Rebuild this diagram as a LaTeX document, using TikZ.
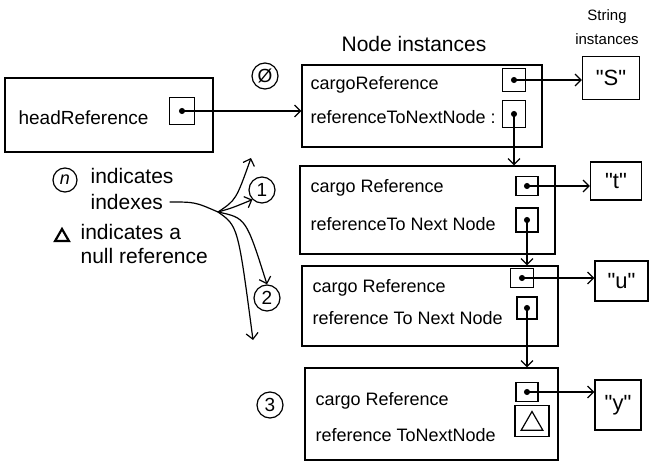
\documentclass[tikz,border=0pt]{standalone}
\usepackage{fontspec}
\setmainfont{Liberation Sans}
\newfontfamily\strfont{Liberation Sans}[Ligatures=TeXOff]
\usetikzlibrary{arrows.meta,shapes.geometric}

\begin{document}
\begin{tikzpicture}[x=1pt, y=-1pt, line width=1.2pt, >={Straight Barb[length=6pt,width=12pt]},
    font=\fontsize{18}{20}\selectfont,
    obj/.style={draw, inner sep=0pt},
    ref/.style={draw, inner sep=0pt, minimum width=23pt, minimum height=22pt},
    str/.style={draw, inner sep=0pt, font=\strfont\fontsize{22}{24}\selectfont},
    idx/.style={draw, circle, inner sep=0pt, minimum size=26pt, font=\fontsize{19}{20}\selectfont},
    txt/.style={anchor=west, inner sep=0pt},
    leg/.style={anchor=west, inner sep=0pt, font=\fontsize{21}{24}\selectfont},
    nul/.style={draw, regular polygon, regular polygon sides=3, inner sep=0pt},
    ptr/.style={{Circle[length=6pt]}->, shorten <=-3pt}]

    \useasboundingbox (0,0) rectangle (656,465);

    % head
    \node[obj, minimum width=208pt, minimum height=74pt] (head) at (109,115) {};
    \node[txt, font=\fontsize{19}{20}\selectfont] (headtxt) at (18,118) {headReference};
    \node[ref, minimum width=25pt, minimum height=27pt] (hd) at (182,111) {};

    % titles
    \node[font=\fontsize{21}{24}\selectfont] (ttl) at (414,44) {Node instances};
    \node[align=center, font=\fontsize{15}{24}\selectfont] (sttl) at (607,27) {String\\instances};

    % node instances
    \node[obj, minimum width=240pt, minimum height=82pt] (n0) at (422,106) {};
    \node[txt] (a0) at (310,85)  {cargoReference};
    \node[txt] (b0) at (310,117) {referenceToNextNode :};
    \node[ref, minimum height=23pt] (c0) at (514,80) {};
    \node[ref, minimum height=27pt] (r0) at (514,114) {};

    \node[obj, minimum width=255pt, minimum height=88pt] (n1) at (427.5,210) {};
    \node[txt] (a1) at (310,188) {cargo Reference};
    \node[txt] (b1) at (310,224) {referenceTo Next Node};
    \node[ref, minimum width=22pt, minimum height=19pt] (c1) at (527,186) {};
    \node[ref, minimum width=22pt, minimum height=24pt] (r1) at (527,220) {};

    \node[obj, minimum width=256pt, minimum height=80pt] (n2) at (430,306) {};
    \node[txt] (a2) at (312,288) {cargo Reference};
    \node[txt] (b2) at (312,318) {reference To Next Node};
    \node[ref, minimum height=19pt] (c2) at (522,278) {};
    \node[ref, minimum width=20pt, minimum height=22pt] (r2) at (527,308) {};

    \node[obj, minimum width=253pt, minimum height=92pt] (n3) at (431.5,414) {};
    \node[txt] (a3) at (315,401) {cargo Reference};
    \node[txt] (b3) at (315,435) {reference ToNextNode};
    \node[ref, minimum width=22pt, minimum height=19pt] (c3) at (527,392) {};
    \node[ref, minimum width=34pt, minimum height=31pt] (r3) at (532,421) {};
    \node[nul, minimum size=25pt] (nil) at (532,424) {};

    % strings
    \node[str, minimum width=57pt, minimum height=43pt] (s0) at (611,78)    {"S"};
    \node[str, minimum width=51pt, minimum height=38pt] (s1) at (616,181)   {"t"};
    \node[str, minimum width=53pt, minimum height=40pt] (s2) at (621.5,281) {"u"};
    \node[str, minimum width=46pt, minimum height=50pt] (s3) at (618,405)   {"y"};

    % indexes
    \node[idx] (i0) at (265,76)  {Ø};
    \node[idx] (i1) at (262,190) {1};
    \node[idx] (i2) at (267,298) {2};
    \node[idx] (i3) at (270,405) {3};

    % pointers
    \draw[ptr] (hd.center) -- (hd.center -| n0.west);
    \foreach \i in {0,...,3} \draw[ptr] (c\i.center) -- (c\i.center -| s\i.west);
    \foreach \i/\j in {0/1,1/2,2/3} \draw[ptr] (r\i.center) -- (r\i.center |- n\j.north);

    % legend
    \node[idx, minimum size=24pt, font=\fontsize{18}{20}\itshape] (in) at (65,180) {n};
    \node[leg] (l1) at (90,176) {indicates};
    \node[leg] (l2) at (90,202) {indexes};
    \node[nul, minimum size=16pt, line width=2.2pt] (tri) at (62,237) {};
    \node[leg] (l3) at (80,232) {indicates a};
    \node[leg] (l4) at (80,256) {null reference};

    \coordinate (br) at (218,212);
    \coordinate (up) at (251,158);
    \coordinate (lo) at (253,340);
    \draw (l2.east) ++(6,0) .. controls (195,202) .. (br);
    \draw[->] (br) .. controls (236,200) .. (up);
    \draw[->] (br) .. controls (232,208) .. (i1.south west);
    \draw[->] (br) .. controls (246,218) .. (i2.north);
    \draw[->] (br) .. controls (238,226) .. (lo);
\end{tikzpicture}
\end{document}
